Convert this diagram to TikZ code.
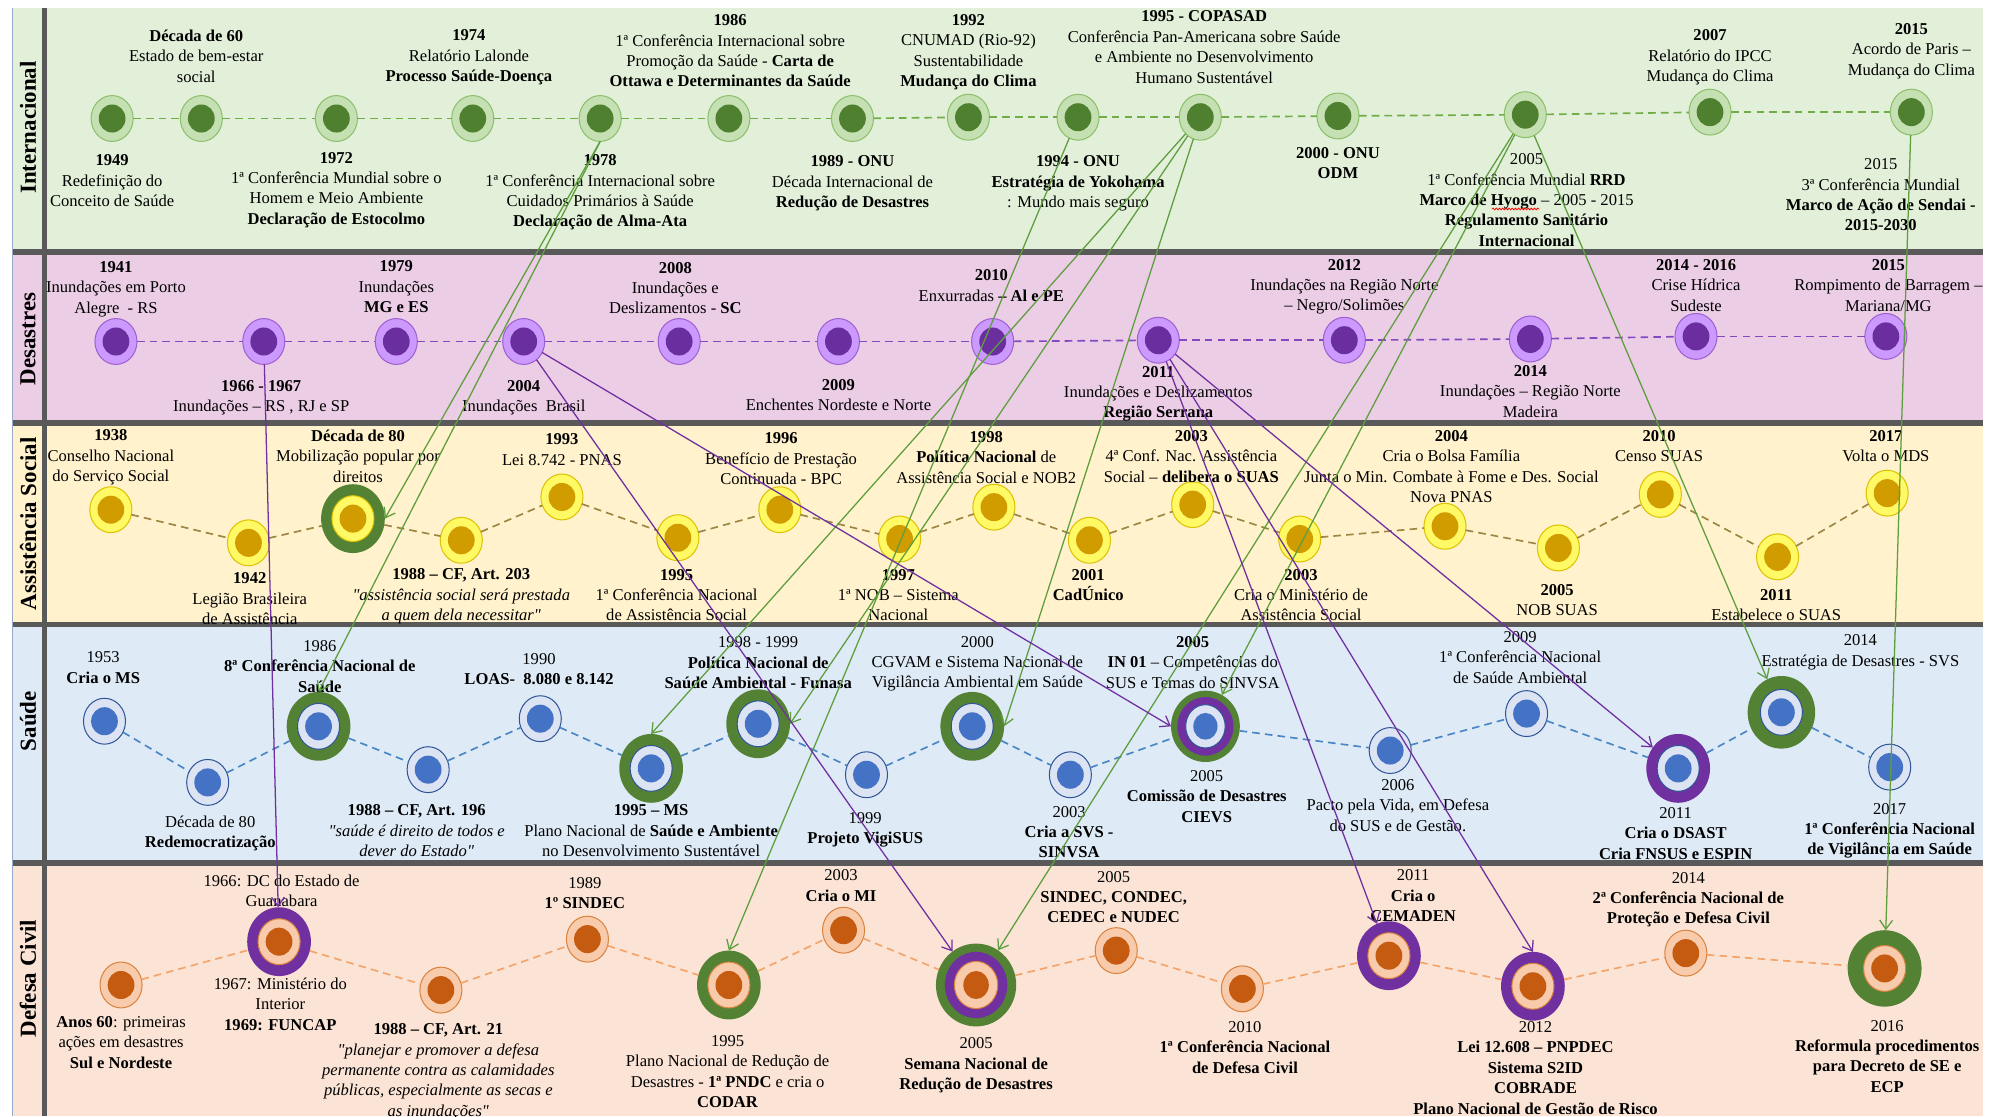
\documentclass[tikz,border=0pt]{standalone}
\usepackage{fontspec}
\setmainfont{Liberation Serif}[Ligatures=TeXOff]
\usetikzlibrary{shapes.geometric,arrows.meta,decorations.pathmorphing}
\definecolor{intBg}{HTML}{E2EFD9}
\definecolor{desBg}{HTML}{ECCDE6}
\definecolor{assBg}{HTML}{FFF2CC}
\definecolor{sauBg}{HTML}{DEEAF6}
\definecolor{dcBg}{HTML}{FBE4D5}
\definecolor{divC}{HTML}{595959}
\definecolor{intO}{HTML}{C5E0B3}\definecolor{intB}{HTML}{8DBF6B}\definecolor{intI}{HTML}{4F802F}\definecolor{intD}{HTML}{70AD47}
\definecolor{desO}{HTML}{CC99FF}\definecolor{desB}{HTML}{9E5FD0}\definecolor{desI}{HTML}{6B2E9E}\definecolor{desD}{HTML}{8448C0}
\definecolor{assO}{HTML}{FFF966}\definecolor{assB}{HTML}{DCC200}\definecolor{assI}{HTML}{D09C00}\definecolor{assD}{HTML}{9C8642}
\definecolor{sauO}{HTML}{DCE4F4}\definecolor{sauB}{HTML}{2F5597}\definecolor{sauI}{HTML}{4472C4}\definecolor{sauD}{HTML}{4A86C5}
\definecolor{dcO}{HTML}{F8CBAD}\definecolor{dcB}{HTML}{D9833F}\definecolor{dcI}{HTML}{C55A11}\definecolor{dcD}{HTML}{F4A46A}
\definecolor{ringG}{HTML}{548235}
\definecolor{ringP}{HTML}{7030A0}
\definecolor{arrG}{HTML}{5E9E3E}
\definecolor{arrP}{HTML}{7030A0}
\tikzset{
  ev/.style n args={3}{ellipse, inner sep=0pt, outer sep=0pt, minimum width=33pt, minimum height=36pt,
    fill=#1, draw=#2, line width=0.8pt,
    path picture={\fill[#3] (path picture bounding box.center) ellipse [x radius=10.5pt, y radius=11pt];}},
  rev/.style n args={4}{ellipse, inner sep=0pt, outer sep=0pt, minimum width=50pt, minimum height=54pt,
    fill=#4, draw=none,
    path picture={\filldraw[fill=#1, draw=#2, line width=0.8pt] (path picture bounding box.center) ellipse [x radius=16.5pt, y radius=18pt];
      \fill[#3] (path picture bounding box.center) ellipse [x radius=10.5pt, y radius=11pt];}},
  nInt/.style={ev={intO}{intB}{intI}},
  nDes/.style={ev={desO}{desB}{desI}},
  nAss/.style={ev={assO}{assB}{assI}},
  nSau/.style={ev={sauO}{sauB}{sauI}},
  nDC/.style={ev={dcO}{dcB}{dcI}},
  rAssG/.style={rev={assO}{assB}{assI}{ringG}},
  rSauG/.style={rev={sauO}{sauB}{sauI}{ringG}},
  rSauP/.style={rev={sauO}{sauB}{sauI}{ringP}},
  rDCG/.style={rev={dcO}{dcB}{dcI}{ringG}},
  rDCP/.style={rev={dcO}{dcB}{dcI}{ringP}},
  dblS/.style={ellipse, inner sep=0pt, outer sep=0pt, minimum width=54pt, minimum height=56pt, fill=ringG, draw=none,
    path picture={\fill[ringP] (path picture bounding box.center) ellipse [x radius=22pt, y radius=23pt];
      \filldraw[fill=sauO, draw=sauB, line width=0.8pt] (path picture bounding box.center) ellipse [x radius=15.5pt, y radius=17pt];
      \fill[sauI] (path picture bounding box.center) ellipse [x radius=9.5pt, y radius=10.5pt];}},
  dblC/.style={ellipse, inner sep=0pt, outer sep=0pt, minimum width=63pt, minimum height=65pt, fill=ringG, draw=none,
    path picture={\fill[ringP] (path picture bounding box.center) ellipse [x radius=24.5pt, y radius=26pt];
      \filldraw[fill=dcO, draw=dcB, line width=0.8pt] (path picture bounding box.center) ellipse [x radius=17pt, y radius=18.5pt];
      \fill[dcI] (path picture bounding box.center) ellipse [x radius=10pt, y radius=11pt];}},
  lbl/.style={align=center, inner sep=0pt, font=\fontsize{13}{16}\selectfont},
  bandlbl/.style={rotate=90, inner sep=0pt, font=\fontsize{18}{20}\selectfont\bfseries},
  divider/.style={draw=divC, line width=4.5pt},
  dashbase/.style={line width=1.3pt, dash pattern=on 6pt off 4pt},
  dInt/.style={dashbase, draw=intD},
  dDes/.style={dashbase, draw=desD},
  dAss/.style={dashbase, draw=assD},
  dSau/.style={dashbase, draw=sauD},
  dDC/.style={dashbase, draw=dcD},
  gArr/.style={draw=arrG, line width=1pt, -{Straight Barb[length=7pt, width=10pt]}},
  pArr/.style={draw=arrP, line width=1pt, -{Straight Barb[length=7pt, width=10pt]}},
}
\begin{document}
\begin{tikzpicture}[x=1pt, y=-1pt]
\useasboundingbox (0,0) rectangle (1568,876);
\fill[white] (0,0) rectangle (1568,876);
% bands
\fill[intBg] (10,6) rectangle (1556,198);
\fill[desBg] (10,198) rectangle (1556,332);
\fill[assBg] (10,332) rectangle (1556,490);
\fill[sauBg] (10,490) rectangle (1556,677);
\fill[dcBg] (10,677) rectangle (1556,876);
\draw[divider] (10,198) -- (1556,198);
\draw[divider] (10,332) -- (1556,332);
\draw[divider] (10,490) -- (1556,490);
\draw[divider] (10,677) -- (1556,677);
\draw[divider] (35,6) -- (35,876);
\draw[draw=sauB!50, line width=1pt] (10,6) -- (10,876);
% band labels
\node[bandlbl] (bInt) at (22,100) {Internacional};
\node[bandlbl] (bDes) at (22,266) {Desastres};
\node[bandlbl] (bAss) at (22,411) {Assistência Social};
\node[bandlbl] (bSau) at (22,566) {Saúde};
\node[bandlbl] (bDC) at (22,768) {Defesa Civil};

% ---------- Internacional nodes
\node[nInt] (i49) at (88,93) {};
\node[nInt] (i60) at (158,93) {};
\node[nInt] (i72) at (264,93) {};
\node[nInt] (i74) at (371,93) {};
\node[nInt] (i78) at (471,93) {};
\node[nInt] (i86) at (572,93) {};
\node[nInt] (i89) at (669,93) {};
\node[nInt] (i92) at (760,92) {};
\node[nInt] (i94) at (846,92) {};
\node[nInt] (i95) at (942,92) {};
\node[nInt] (i00) at (1050,91) {};
\node[nInt] (i05) at (1197,90) {};
\node[nInt] (i07) at (1342,88) {};
\node[nInt] (i15) at (1500,88) {};

% ---------- Desastres nodes
\node[nDes] (d41) at (91,268) {};
\node[nDes] (d66) at (207,268) {};
\node[nDes] (d79) at (311,268) {};
\node[nDes] (d04) at (411,268) {};
\node[nDes] (d08) at (533,268) {};
\node[nDes] (d09) at (658,268) {};
\node[nDes] (d10) at (779,268) {};
\node[nDes] (d11) at (909,267) {};
\node[nDes] (d12) at (1055,267) {};
\node[nDes] (d14) at (1201,266) {};
\node[nDes] (d1416) at (1331,264) {};
\node[nDes] (d15) at (1480,264) {};

% ---------- Assistencia nodes
\node[nAss] (a38) at (87,400) {};
\node[nAss] (a42) at (195,426) {};
\node[rAssG] (a80) at (277,407) {};
\node[nAss] (a88) at (362,424) {};
\node[nAss] (a93) at (441,390) {};
\node[nAss] (a95) at (532,422) {};
\node[nAss] (a96) at (612,400) {};
\node[nAss] (a97) at (706,423) {};
\node[nAss] (a98) at (780,398) {};
\node[nAss] (a01) at (855,424) {};
\node[nAss] (a03a) at (936,396) {};
\node[nAss] (a03b) at (1020,423) {};
\node[nAss] (a04) at (1134,413) {};
\node[nAss] (a05) at (1223,430) {};
\node[nAss] (a10) at (1303,388) {};
\node[nAss] (a11) at (1395,437) {};
\node[nAss] (a17) at (1481,387) {};

% ---------- Saude nodes
\node[nSau] (s53) at (82,566) {};
\node[nSau] (s80) at (163,614) {};
\node[rSauG] (s86) at (250,570) {};
\node[nSau] (s88) at (336,604) {};
\node[nSau] (s90) at (424,564) {};
\node[rSauG] (s95) at (511,603) {};
\node[rSauG] (s98) at (595,568) {};
\node[nSau] (s99) at (680,608) {};
\node[rSauG] (s00) at (763,570) {};
\node[nSau] (s03) at (840,608) {};
\node[dblS] (s05) at (946,570) {};
\node[nSau] (s06) at (1091,589) {};
\node[nSau] (s09) at (1198,560) {};
\node[rSauP] (s11) at (1317,603) {};
\node[rSauG, minimum width=53pt, minimum height=57pt] (s14) at (1398,559) {};
\node[nSau] (s17) at (1483,602) {};

% ---------- Defesa Civil nodes
\node[nDC] (c60) at (95,773) {};
\node[rDCP] (c66) at (219,739) {};
\node[nDC] (c88) at (346,777) {};
\node[nDC] (c89) at (461,737) {};
\node[rDCG] (c95) at (572,773) {};
\node[nDC] (c03) at (662,730) {};
\node[dblC] (c05) at (766,773) {};
\node[nDC] (c05b) at (876,746) {};
\node[nDC] (c10) at (975,776) {};
\node[rDCP] (c11) at (1090,750) {};
\node[rDCP] (c12) at (1203,774) {};
\node[nDC] (c14) at (1323,748) {};
\node[rDCG, minimum width=58pt, minimum height=60pt] (c16) at (1479,760) {};

% ---------- dashed timelines
\foreach \a/\b in {i49/i60,i60/i72,i72/i74,i74/i78,i78/i86,i86/i89,i89/i92,i92/i94,i94/i95,i95/i00,i00/i05,i05/i07,i07/i15}
  \draw[dInt] (\a) -- (\b);
\foreach \a/\b in {d41/d66,d66/d79,d79/d04,d04/d08,d08/d09,d09/d10,d10/d11,d11/d12,d12/d14,d14/d1416,d1416/d15}
  \draw[dDes] (\a) -- (\b);
\foreach \a/\b in {a38/a42,a42/a80,a80/a88,a88/a93,a93/a95,a95/a96,a96/a97,a97/a98,a98/a01,a01/a03a,a03a/a03b,a03b/a04,a04/a05,a05/a10,a10/a11,a11/a17}
  \draw[dAss] (\a) -- (\b);
\foreach \a/\b in {s53/s80,s80/s86,s86/s88,s88/s90,s90/s95,s95/s98,s98/s99,s99/s00,s00/s03,s03/s05,s05/s06,s06/s09,s09/s11,s11/s14,s14/s17}
  \draw[dSau] (\a) -- (\b);
\foreach \a/\b in {c60/c66,c66/c88,c88/c89,c89/c95,c95/c03,c03/c05,c05/c05b,c05b/c10,c10/c11,c11/c12,c12/c14,c14/c16}
  \draw[dDC] (\a) -- (\b);

% ---------- Internacional labels
\node[lbl] (tI60) at (154,44) {\textbf{Década de 60}\\Estado de bem-estar\\social};
\node[lbl] (tI74) at (368,45) {\textbf{1974}\\Relatório Lalonde\\\textbf{Processo Saúde-Doença}};
\node[lbl] (tI86) at (573,40) {\textbf{1986}\\1ª Conferência Internacional sobre\\Promoção da Saúde - \textbf{Carta de}\\\textbf{Ottawa e Determinantes da Saúde}};
\node[lbl] (tI92) at (760,41) {\textbf{1992}\\CNUMAD (Rio-92)\\Sustentabilidade\\\textbf{Mudança do Clima}};
\node[lbl] (tI95) at (945,37) {\textbf{1995 - COPASAD}\\Conferência Pan-Americana sobre Saúde\\e Ambiente no Desenvolvimento\\Humano Sustentável};
\node[lbl] (tI07) at (1342,45) {\textbf{2007}\\Relatório do IPCC\\Mudança do Clima};
\node[lbl] (tI15) at (1500,40) {\textbf{2015}\\Acordo de Paris –\\Mudança do Clima};
\node[lbl] (tI49) at (88,142) {\textbf{1949}\\Redefinição do\\Conceito de Saúde};
\node[lbl] (tI72) at (264,149) {\textbf{1972}\\1ª Conferência Mundial sobre o\\Homem e Meio Ambiente\\\textbf{Declaração de Estocolmo}};
\node[lbl] (tI78) at (471,151) {\textbf{1978}\\1ª Conferência Internacional sobre\\Cuidados Primários à Saúde\\\textbf{Declaração de Alma-Ata}};
\node[lbl] (tI89) at (669,144) {\textbf{1989 - ONU}\\Década Internacional de\\\textbf{Redução de Desastres}};
\node[lbl] (tI94) at (846,144) {\textbf{1994 - ONU}\\\textbf{Estratégia de Yokohama}\\: Mundo mais seguro};
\node[lbl] (tI00) at (1050,128) {\textbf{2000 - ONU}\\\textbf{ODM}};
\node[lbl] (tI05) at (1198,157) {2005\\1ª Conferência Mundial \textbf{RRD}\\\textbf{Marco de Hyogo} – 2005 - 2015\\\textbf{Regulamento Sanitário}\\\textbf{Internacional}};
\node[lbl] (tI15b) at (1476,153) {2015\\3ª Conferência Mundial\\\textbf{Marco de Ação de Sendai -}\\\textbf{2015-2030}};
\draw[red, line width=0.6pt, decorate, decoration={snake, amplitude=0.7pt, segment length=2.5pt}] (1171,164) -- (1208,164);

% ---------- Desastres labels
\node[lbl] (tD41) at (91,227) {\textbf{1941}\\Inundações em Porto\\Alegre\ \ - RS};
\node[lbl] (tD79) at (311,225) {\textbf{1979}\\Inundações\\\textbf{MG e ES}};
\node[lbl] (tD08) at (530,226) {\textbf{2008}\\Inundações e\\Deslizamentos - \textbf{SC}};
\node[lbl] (tD10) at (778,224) {\textbf{2010}\\Enxurradas \textbf{– Al e PE}};
\node[lbl] (tD12) at (1055,225) {\textbf{2012}\\Inundações na Região Norte\\– Negro/Solimões};
\node[lbl] (tD1416) at (1331,224) {\textbf{2014 - 2016}\\Crise Hídrica\\Sudeste};
\node[lbl] (tD15) at (1482,224) {\textbf{2015}\\Rompimento de Barragem –\\Mariana/MG};
\node[lbl] (tD66) at (205,312) {\textbf{1966 - 1967}\\Inundações – RS , RJ e SP};
\node[lbl] (tD04) at (411,312) {\textbf{2004}\\Inundações\ \ Brasil};
\node[lbl] (tD09) at (658,310) {\textbf{2009}\\Enchentes Nordeste e Norte};
\node[lbl] (tD11) at (909,309) {\textbf{2011}\\Inundações e Deslizamentos\\\textbf{Região Serrana}};
\node[lbl] (tD14) at (1201,307) {\textbf{2014}\\Inundações – Região Norte\\Madeira};

% ---------- Assistencia labels
\node[lbl] (tA38) at (87,359) {\textbf{1938}\\Conselho Nacional\\do Serviço Social};
\node[lbl] (tA80) at (281,358) {\textbf{Década de 80}\\Mobilização popular por\\direitos};
\node[lbl] (tA93) at (441,353) {\textbf{1993}\\Lei 8.742 - PNAS};
\node[lbl] (tA96) at (613,360) {\textbf{1996}\\Benefício de Prestação\\Continuada - BPC};
\node[lbl] (tA98) at (774,359) {\textbf{1998}\\\textbf{Política Nacional} de\\Assistência Social e NOB2};
\node[lbl] (tA03a) at (935,358) {\textbf{2003}\\4ª Conf. Nac. Assistência\\Social – \textbf{delibera o SUAS}};
\node[lbl] (tA04) at (1139,366) {\textbf{2004}\\Cria o Bolsa Família\\Junta o Min. Combate à Fome e Des. Social\\Nova PNAS};
\node[lbl] (tA10) at (1302,350) {\textbf{2010}\\Censo SUAS};
\node[lbl] (tA17) at (1480,350) {\textbf{2017}\\Volta o MDS};
\node[lbl] (tA42) at (196,470) {\textbf{1942}\\Legião Brasileira\\de Assistência};
\node[lbl] (tA88) at (362,468) {\textbf{1988 – CF, Art. 203}\\\textit{"assistência social será prestada}\\\textit{a quem dela necessitar"}};
\node[lbl] (tA95) at (531,467) {\textbf{1995}\\1ª Conferência Nacional\\de Assistência Social};
\node[lbl] (tA97) at (705,467) {\textbf{1997}\\1ª NOB – Sistema\\Nacional};
\node[lbl] (tA01) at (854,459) {\textbf{2001}\\\textbf{CadÚnico}};
\node[lbl] (tA03b) at (1021,467) {\textbf{2003}\\Cria o Ministério de\\Assistência Social};
\node[lbl] (tA05) at (1222,471) {\textbf{2005}\\NOB SUAS};
\node[lbl] (tA11) at (1394,475) {\textbf{2011}\\Estabelece o SUAS};

% ---------- Saude labels
\node[lbl] (tS53) at (81,524) {1953\\\textbf{Cria o MS}};
\node[lbl] (tS86) at (251,523) {1986\\\textbf{8ª Conferência Nacional de}\\\textbf{Saúde}};
\node[lbl] (tS90) at (423,525) {1990\\\textbf{LOAS-\ \ 8.080 e 8.142}};
\node[lbl] (tS98) at (595,520) {1998 - 1999\\\textbf{Política Nacional de}\\\textbf{Saúde Ambiental - Funasa}};
\node[lbl] (tS00) at (767,521) {2000\\CGVAM e Sistema Nacional de\\Vigilância Ambiental em Saúde};
\node[lbl] (tS05) at (936,520) {\textbf{2005}\\\textbf{IN 01} – Competências do\\SUS e Temas do SINVSA};
\node[lbl] (tS09) at (1193,516) {2009\\1ª Conferência Nacional\\de Saúde Ambiental};
\node[lbl] (tS14) at (1460,512) {2014\\Estratégia de Desastres - SVS};
\node[lbl] (tS80) at (165,654) {Década de 80\\\textbf{Redemocratização}};
\node[lbl] (tS88) at (327,652) {\textbf{1988 – CF, Art. 196}\\\textit{"saúde é direito de todos e}\\\textit{dever do Estado"}};
\node[lbl] (tS95) at (511,652) {\textbf{1995 – MS}\\Plano Nacional de \textbf{Saúde e Ambiente}\\no Desenvolvimento Sustentável};
\node[lbl] (tS99) at (679,651) {1999\\\textbf{Projeto VigiSUS}};
\node[lbl] (tS03) at (839,653) {2003\\\textbf{Cria a SVS -}\\\textbf{SINVSA}};
\node[lbl] (tS05b) at (947,625) {2005\\\textbf{Comissão de Desastres}\\\textbf{CIEVS}};
\node[lbl] (tS06) at (1097,632) {2006\\Pacto pela Vida, em Defesa\\do SUS e de Gestão.};
\node[lbl] (tS11) at (1315,654) {2011\\\textbf{Cria o DSAST}\\\textbf{Cria FNSUS e ESPIN}};
\node[lbl] (tS17) at (1483,652) {2017\\\textbf{1ª Conferência Nacional}\\\textbf{de Vigilância em Saúde}};

% ---------- Defesa Civil labels
\node[lbl] (tC66) at (221,699) {1966: DC do Estado de\\Guanabara};
\node[lbl] (tC89) at (459,701) {1989\\\textbf{1º SINDEC}};
\node[lbl] (tC03) at (660,695) {2003\\\textbf{Cria o MI}};
\node[lbl] (tC05b) at (874,704) {2005\\\textbf{SINDEC, CONDEC,}\\\textbf{CEDEC e NUDEC}};
\node[lbl] (tC11) at (1109,703) {2011\\\textbf{Cria o}\\\textbf{CEMADEN}};
\node[lbl] (tC14) at (1325,706) {2014\\\textbf{2ª Conferência Nacional de}\\\textbf{Proteção e Defesa Civil}};
\node[lbl] (tC60) at (95,818) {\textbf{Anos 60}: primeiras\\ações em desastres\\\textbf{Sul e Nordeste}};
\node[lbl] (tC67) at (220,788) {1967: Ministério do\\Interior\\\textbf{1969: FUNCAP}};
\node[lbl] (tC88) at (344,841) {\textbf{1988 – CF, Art. 21}\\\textit{"planejar e promover a defesa}\\\textit{permanente contra as calamidades}\\\textit{públicas, especialmente as secas e}\\\textit{as inundações"}};
\node[lbl] (tC95) at (571,841) {1995\\Plano Nacional de Redução de\\Desastres - \textbf{1ª PNDC} e cria o\\\textbf{CODAR}};
\node[lbl] (tC05) at (766,836) {2005\\\textbf{Semana Nacional de}\\\textbf{Redução de Desastres}};
\node[lbl] (tC10) at (977,822) {2010\\\textbf{1ª Conferência Nacional}\\\textbf{de Defesa Civil}};
\node[lbl] (tC12) at (1205,838) {2012\\\textbf{Lei 12.608 – PNPDEC}\\\textbf{Sistema S2ID}\\\textbf{COBRADE}\\\textbf{Plano Nacional de Gestão de Risco}};
\node[lbl] (tC16) at (1481,829) {2016\\\textbf{Reformula procedimentos}\\\textbf{para Decreto de SE e}\\\textbf{ECP}};

% ---------- cross-band connectors
\draw[gArr] (i78.south) -- (a80.east);
\draw[gArr] (i78.south) -- (s86.north);
\draw[gArr] (i95) -- (s95.north);
\draw[gArr] (i95) -- (s98.east);
\draw[gArr] (i95) -- (s00.east);
\draw[gArr] (i94) -- (c95.north);
\draw[gArr] (i05) -- (c05);
\draw[gArr] (i05) -- (s05);
\draw[gArr] (i05) -- (s14);
\draw[gArr] (i15) -- (c16);
\draw[pArr] (d66) -- (c66);
\draw[pArr] (d04) -- (s05.west);
\draw[pArr] (d04) -- (c05);
\draw[pArr] (d11) -- (s11);
\draw[pArr] (d11) -- (c11);
\draw[pArr] (d11) -- (c12.north);
\end{tikzpicture}
\end{document}
